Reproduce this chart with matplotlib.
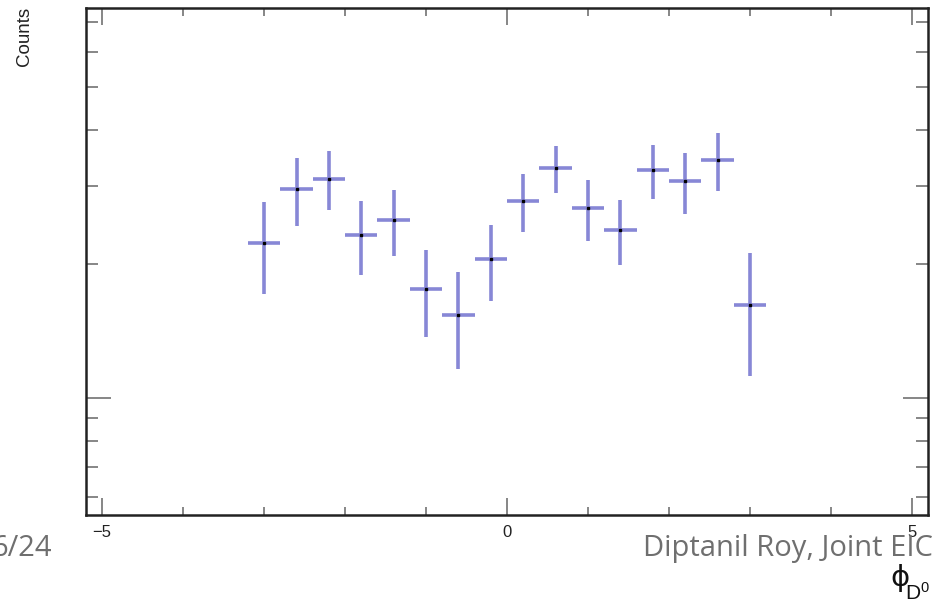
from matplotlib import pyplot as plt
from matplotlib.ticker import FixedLocator, NullFormatter, LogLocator
import numpy as np

# phi(D0) bins and yields with their errors
phi = [-3.0, -2.6, -2.2, -1.8, -1.4, -1.0, -0.6, -0.2,
       0.2, 0.6, 1.0, 1.4, 1.8, 2.2, 2.6, 3.0]
counts = [22.3, 29.5, 31.1, 23.3, 25.1, 17.6, 15.4, 20.5,
          27.7, 32.9, 26.7, 23.9, 32.5, 30.7, 34.3, 16.2]
errors = [5.2, 5.2, 4.7, 4.4, 4.2, 3.9, 3.8, 3.95,
          4.1, 4.0, 4.2, 4.0, 4.5, 4.8, 5.1, 5.0]
bin_width = 0.4

x_major = [-5, 0, 5]
x_minor = [-4, -3, -2, -1, 1, 2, 3, 4]

# upright math text in a Helvetica-like face
plt.rcParams['mathtext.fontset'] = 'custom'
plt.rcParams['mathtext.rm'] = 'Liberation Sans'
plt.rcParams['mathtext.it'] = 'Liberation Sans'
plt.rcParams['mathtext.bf'] = 'Liberation Sans:bold'

fig = plt.figure(figsize=(9.4, 6.05), dpi=100)
ax = fig.add_axes([86 / 940, 1 - 515 / 605, 842 / 940, 507 / 605])

ax.errorbar(phi, counts, yerr=errors, xerr=bin_width / 2, fmt='none',
            ecolor='#8787d6', elinewidth=2.6, capsize=0)
ax.plot(phi, counts, linestyle='none', marker='s', markersize=1.8,
        color='black')

ax.set_yscale('log')
ax.set_xlim(-5.2, 5.2)
ax.set_ylim(5.46, 75.2)

# ROOT-like frame: ticks inside on all four sides
for side in ax.spines.values():
    side.set_linewidth(1.8)
    side.set_color('#222222')

ax.xaxis.set_major_locator(FixedLocator(x_major))
ax.xaxis.set_minor_locator(FixedLocator(x_minor))
ax.set_xticklabels(['\u22125', '0', '5'])
ax.yaxis.set_major_locator(LogLocator(base=10, subs=(1.0,)))
ax.yaxis.set_minor_locator(LogLocator(base=10, subs=np.arange(2, 10)))
ax.yaxis.set_major_formatter(NullFormatter())
ax.yaxis.set_minor_formatter(NullFormatter())

ax.tick_params(which='both', direction='in', top=True, right=True,
               color='#666666', width=1.1)
ax.tick_params(axis='x', which='major', length=12, pad=7,
               labelsize=12, labelcolor='#222222')
ax.tick_params(axis='x', which='minor', length=5.5)
ax.tick_params(axis='y', which='major', length=18)
ax.tick_params(axis='y', which='minor', length=8.6)
for lab in ax.get_xticklabels():
    lab.set_family('Liberation Sans')

fig.text(25 / 940, 1 - 7 / 605, 'Counts', rotation=90, ha='center',
         va='top', fontsize=13.5, family='Liberation Sans', color='#222222')

# x title: phi with a lowered D0 subscript
fig.text(890 / 940, 1 - 586 / 605, '\u03d5', ha='left', va='baseline',
         fontsize=21, family='DejaVu Sans', color='#111111')
fig.text(905 / 940, 1 - 600 / 605, r'D$^{0}$', ha='left', va='baseline',
         fontsize=15, family='Liberation Sans', color='#111111')

# slide footer
fig.text(52 / 940, 1 - 556 / 605, '6/24', ha='right', va='baseline',
         fontsize=21, family='Open Sans', color='#6f6f6f')
fig.text(643 / 940, 1 - 556 / 605, 'Diptanil Roy, Joint EIC', ha='left',
         va='baseline', fontsize=21, family='Open Sans', color='#6f6f6f')

plt.savefig('out.png', dpi=100)
